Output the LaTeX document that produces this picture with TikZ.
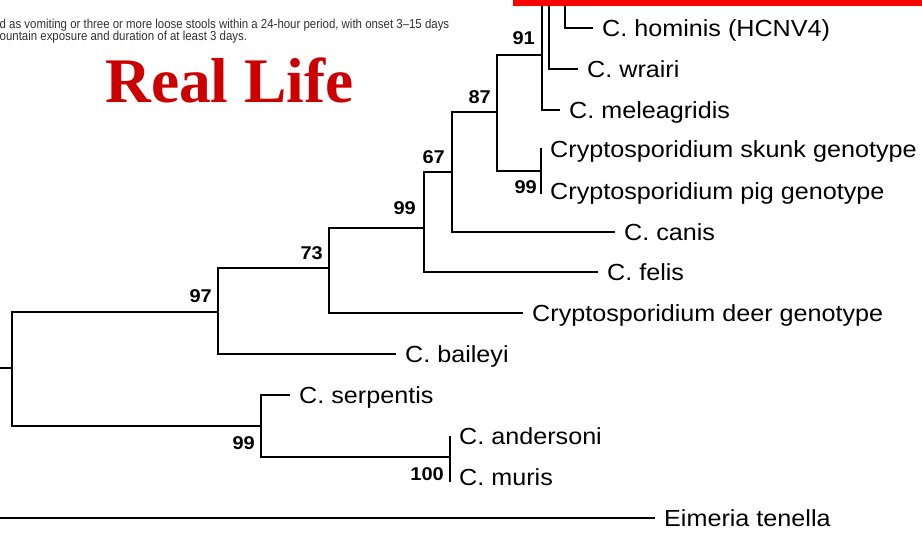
\documentclass[tikz,border=0pt]{standalone}
\usepackage{fontspec}
\setmainfont{Liberation Sans}
\newfontfamily\labfont[FakeStretch=1.08]{Liberation Sans}
\newfontfamily\capfont[FakeStretch=0.88]{Liberation Sans}
\newfontfamily\titlefont{Liberation Serif}
\definecolor{titlered}{RGB}{204,0,0}
\definecolor{barred}{RGB}{255,0,0}
\definecolor{captext}{RGB}{50,50,50}
\begin{document}
\begin{tikzpicture}[x=1pt,y=-1pt,
  br/.style={line width=1.4pt, black},
  tax/.style={anchor=west, inner xsep=9pt, inner ysep=0pt, text height=16.7pt, text depth=0pt,
    font=\labfont\fontsize{23.3}{28}\selectfont},
  boot/.style={anchor=base east, inner sep=0pt, font=\labfont\bfseries\fontsize{18.5}{22}\selectfont},
  captxt/.style={anchor=base west, inner sep=0pt, text=captext, font=\capfont\fontsize{13}{15}\selectfont}]
\useasboundingbox (0,0) rectangle (922,534);
\fill[white] (0,0) rectangle (922,534);

% caption text
\node[captxt] (cap1) at (-0.5,28.5) {d as vomiting or three or more loose stools within a 24-hour period, with onset 3–15 days};
\node[captxt] (cap2) at (-0.5,41) {ountain exposure and duration of at least 3 days.};

% title
\node[anchor=base west, inner sep=0pt, text=titlered,
  font=\titlefont\bfseries\fontsize{63.5}{70}\selectfont] (title) at (105,103) {Real Life};

% internal nodes
\coordinate (stub) at (0,368);
\coordinate (root) at (12,368);
\coordinate (n97) at (218,312);
\coordinate (n73) at (329,268);
\coordinate (n99a) at (424,228);
\coordinate (n67) at (452,172);
\coordinate (n87) at (497,112);
\coordinate (n91) at (542,55);
\coordinate (n99b) at (541,171);
\coordinate (n99c) at (261,426);
\coordinate (n100) at (450,457);
\coordinate (top91) at (542,-2);
\coordinate (topW) at (549,-2);
\coordinate (topH) at (565,-2);
\coordinate (estub) at (0,518);

% taxa
\node[tax] (hominis) at (593,28) {C. hominis (HCNV4)};
\node[tax] (wrairi) at (578,69) {C. wrairi};
\node[tax] (melea) at (560,110) {C. meleagridis};
\node[tax] (skunk) at (541,149.5) {Cryptosporidium skunk genotype};
\node[tax] (pig) at (541,191.5) {Cryptosporidium pig genotype};
\node[tax] (canis) at (615,232) {C. canis};
\node[tax] (felis) at (598,272) {C. felis};
\node[tax] (deer) at (523,313) {Cryptosporidium deer genotype};
\node[tax] (baileyi) at (396,354) {C. baileyi};
\node[tax] (serp) at (290,395) {C. serpentis};
\node[tax] (ander) at (450,436) {C. andersoni};
\node[tax] (muris) at (450,477) {C. muris};
\node[tax] (eim) at (655,518) {Eimeria tenella};

% bootstrap values
\node[boot] (b91) at (535,45) {91};
\node[boot] (b87) at (491,104) {87};
\node[boot] (b67) at (445,164) {67};
\node[boot] (b99a) at (416,215) {99};
\node[boot] (b73) at (323,260) {73};
\node[boot] (b97) at (212,303) {97};
\node[boot] (b99b) at (537,194) {99};
\node[boot] (b99c) at (255,450) {99};
\node[boot] (b100) at (444,481) {100};

% branches
\draw[br] (stub) -- (root);
\draw[br] (root) |- (n97);
\draw[br] (root) |- (n99c);
\draw[br] (n97) |- (n73);
\draw[br] (n97) |- (baileyi.west);
\draw[br] (n73) |- (n99a);
\draw[br] (n73) |- (deer.west);
\draw[br] (n99a) |- (n67);
\draw[br] (n99a) |- (felis.west);
\draw[br] (n67) |- (n87);
\draw[br] (n67) |- (canis.west);
\draw[br] (n87) |- (n91);
\draw[br] (n87) |- (n99b);
\draw[br] (top91) -- (n91) |- (melea.west);
\draw[br] (topW) |- (wrairi.west);
\draw[br] (topH) |- (hominis.west);
\draw[br] ([yshift=1pt]skunk.west) -- ([yshift=-2.5pt]pig.west);
\draw[br] (n99c) |- (serp.west);
\draw[br] (n99c) |- (n100);
\draw[br] (ander.west) -- ([yshift=-5pt]muris.west);
\draw[br, line width=1.7pt] (estub) -- (eim.west);

% red bar
\fill[barred] (513,-1) rectangle (923,6);
\end{tikzpicture}
\end{document}
